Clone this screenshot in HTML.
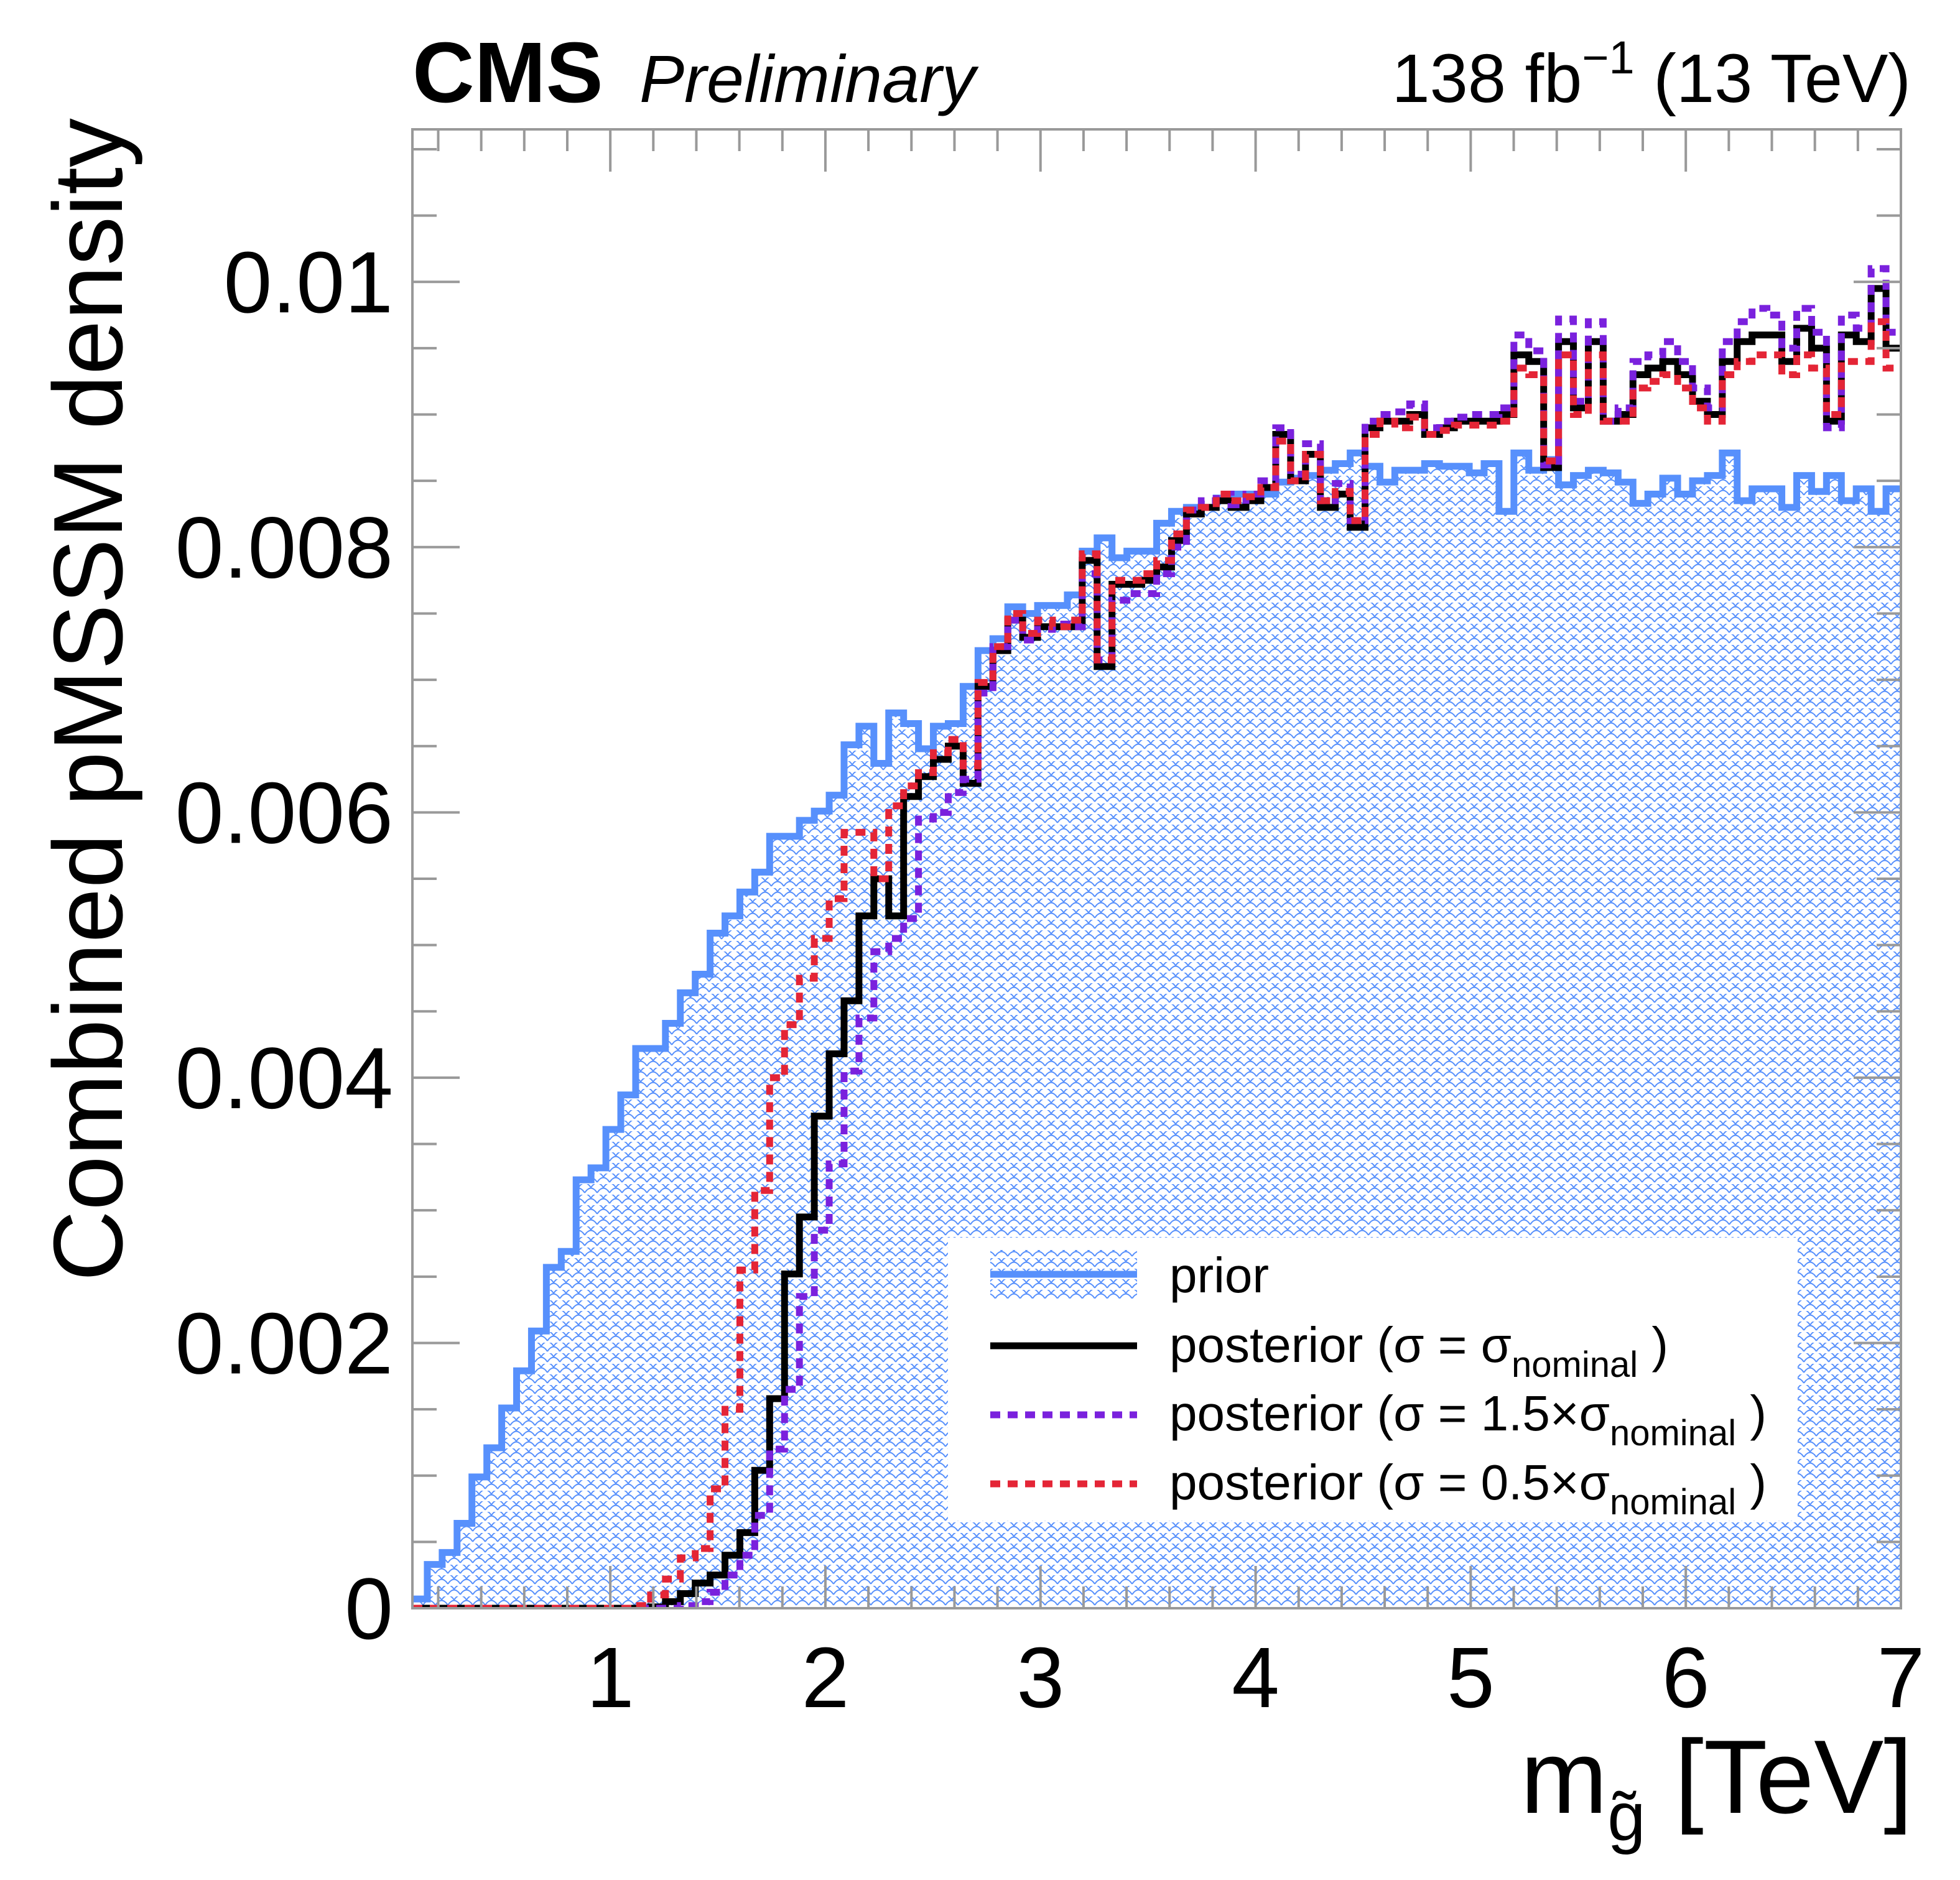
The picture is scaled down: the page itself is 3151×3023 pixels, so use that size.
<!DOCTYPE html>
<html><head><meta charset="utf-8"><style>
html,body{margin:0;padding:0;background:#fff;}
svg{display:block;font-family:"Liberation Sans",Arial,sans-serif;}
</style></head><body>
<svg id="chart" width="3151" height="3023" viewBox="0 0 3151 3023" xmlns="http://www.w3.org/2000/svg">
<defs>
<pattern id="scales" width="20" height="17" patternUnits="userSpaceOnUse">
<path d="M0,14 Q10,-1 20,14 M-10,5.5 Q0,-9 10,5.5 M10,5.5 Q20,-9 30,5.5" fill="none" stroke="#5790fc" stroke-width="2"/>
</pattern>
<clipPath id="plotclip"><rect x="663" y="208" width="2393" height="2378"/></clipPath>
</defs>
<rect x="0" y="0" width="3151" height="3023" fill="#fff"/>
<g id="plot" clip-path="url(#plotclip)"></g>
<g id="axes"></g>
<rect x="663" y="208" width="2393" height="2378" fill="none" stroke="#999" stroke-width="4"/>
<g>
<rect x="1524" y="1990" width="1366" height="455" fill="#fff"/>
<g>
<rect x="1592" y="2010" width="236" height="78" fill="url(#scales)"/>
<line x1="1592" y1="2049" x2="1828" y2="2049" stroke="#5790fc" stroke-width="11"/>
<text x="1880" y="2078" font-size="80">prior</text>
</g>
<g>
<line x1="1592" y1="2164" x2="1828" y2="2164" stroke="#000" stroke-width="11"/>
<text x="1880" y="2190" font-size="80">posterior (σ = σ<tspan font-size="58" dy="24">nominal</tspan><tspan dy="-24"> )</tspan></text>
</g>
<g>
<line x1="1592" y1="2275" x2="1828" y2="2275" stroke="#7a21dd" stroke-width="11" stroke-dasharray="16,12"/>
<text x="1880" y="2300" font-size="80">posterior (σ = 1.5×σ<tspan font-size="58" dy="24">nominal</tspan><tspan dy="-24"> )</tspan></text>
</g>
<g>
<line x1="1592" y1="2386" x2="1828" y2="2386" stroke="#e42536" stroke-width="11" stroke-dasharray="16,12"/>
<text x="1880" y="2411" font-size="80">posterior (σ = 0.5×σ<tspan font-size="58" dy="24">nominal</tspan><tspan dy="-24"> )</tspan></text>
</g>
</g>
<text x="663" y="164" font-size="138" font-weight="bold">CMS</text>
<text x="1028" y="164" font-size="108" font-style="italic">Preliminary</text>
<text x="3072" y="164" font-size="110" text-anchor="end">138 fb<tspan font-size="74" dy="-46">−1</tspan><tspan dy="46"> (13 TeV)</tspan></text>
<text x="3075" y="2915" font-size="168" text-anchor="end">m<tspan font-size="110" dy="44">g̃</tspan><tspan dy="-44"> [TeV]</tspan></text>
<text transform="translate(196,190) rotate(-90)" font-size="158" text-anchor="end">Combined pMSSM density</text>
</svg>
<script>
const xTickLabels = ["1","2","3","4","5","6","7"];
const yTickLabels = ["0","0.002","0.004","0.006","0.008","0.01"];
const prior = [0.07,0.33,0.42,0.64,0.99,1.21,1.51,1.79,2.09,2.57,2.69,3.23,3.32,3.61,3.87,4.22,4.22,4.41,4.64,4.78,5.09,5.22,5.40,5.55,5.82,5.82,5.94,6.01,6.13,6.51,6.65,6.37,6.75,6.67,6.48,6.65,6.67,6.95,7.22,7.31,7.55,7.50,7.56,7.56,7.64,7.97,8.07,7.92,7.97,7.97,8.18,8.27,8.30,8.30,8.37,8.40,8.40,8.40,8.49,8.52,8.54,8.58,8.63,8.71,8.61,8.49,8.58,8.58,8.63,8.61,8.61,8.56,8.63,8.27,8.71,8.58,8.66,8.47,8.54,8.58,8.56,8.49,8.33,8.40,8.52,8.40,8.50,8.54,8.71,8.35,8.44,8.44,8.30,8.54,8.42,8.54,8.35,8.44,8.27,8.44];
const postNominal = [0,0,0,0,0,0,0,0,0,0,0,0,0,0,0,0,0.01,0.05,0.11,0.19,0.25,0.40,0.57,1.04,1.58,2.52,2.95,3.71,4.18,4.58,5.22,5.50,5.22,6.12,6.27,6.40,6.50,6.22,6.95,7.22,7.45,7.32,7.40,7.40,7.40,7.90,7.10,7.72,7.72,7.75,7.85,8.05,8.25,8.30,8.35,8.30,8.35,8.45,8.85,8.50,8.70,8.30,8.40,8.15,8.90,8.95,8.95,9.00,8.85,8.90,8.95,8.95,8.95,9.00,9.45,9.40,8.60,9.55,9.05,9.55,8.95,9.00,9.30,9.35,9.40,9.30,9.10,9.00,9.40,9.55,9.60,9.60,9.40,9.65,9.50,8.95,9.60,9.55,9.95,9.50];
const post1p5 = [0,0,0,0,0,0,0,0,0,0,0,0,0,0,0,0,0,0,0.02,0.05,0.12,0.25,0.40,0.70,1.20,1.65,2.35,2.85,3.35,4.05,4.45,4.95,5.05,5.20,5.95,6.00,6.15,6.25,6.90,7.25,7.45,7.30,7.38,7.42,7.40,7.80,7.15,7.60,7.65,7.65,7.80,8.00,8.28,8.35,8.40,8.32,8.40,8.50,8.90,8.55,8.78,8.35,8.48,8.20,8.95,9.00,9.02,9.08,8.90,8.95,8.98,9.00,9.00,9.05,9.60,9.48,8.62,9.72,9.10,9.70,8.95,9.05,9.40,9.45,9.55,9.40,9.20,9.05,9.55,9.70,9.80,9.75,9.50,9.80,9.62,8.90,9.75,9.65,10.10,9.62];
const post0p5 = [0,0,0,0,0,0,0,0,0,0,0,0,0,0,0,0.02,0.10,0.22,0.38,0.45,0.90,1.50,2.55,3.15,4.00,4.40,4.75,5.05,5.35,5.85,5.85,5.50,6.05,6.20,6.30,6.45,6.55,6.35,6.98,7.25,7.50,7.35,7.45,7.40,7.45,7.95,7.15,7.75,7.75,7.80,7.90,8.10,8.28,8.30,8.40,8.35,8.38,8.45,8.80,8.50,8.70,8.35,8.42,8.20,8.85,8.95,8.90,8.98,8.85,8.88,8.92,8.92,8.92,8.95,9.35,9.30,8.65,9.45,9.00,9.45,8.95,8.95,9.20,9.25,9.30,9.20,9.05,8.95,9.30,9.40,9.45,9.45,9.30,9.45,9.35,9.00,9.40,9.40,9.70,9.35];

const NS = "http://www.w3.org/2000/svg";
const X0 = 663, X1 = 3056, Y0 = 2586, YT = 208;
const xmin = 0.08, xmax = 7.0;
const ymaxUnits = 11.15;
function xScale(v){ return X0 + (v - xmin) * (X1 - X0) / (xmax - xmin); }
function yScale(v){ return Y0 - v * (Y0 - YT) / ymaxUnits; }
const nb = prior.length;
const bw = (xmax - xmin) / nb;

function stepPath(vals, closed){
  let d = "M" + xScale(xmin) + "," + (closed ? Y0 : yScale(vals[0]));
  for (let i = 0; i < vals.length; i++){
    const xa = xScale(xmin + i*bw), xb = xScale(xmin + (i+1)*bw), y = yScale(vals[i]);
    d += " L" + xa + "," + y + " L" + xb + "," + y;
  }
  if (closed) d += " L" + xScale(xmax) + "," + Y0 + " Z";
  return d;
}
const plot = document.getElementById("plot");
function mk(tag, attrs){ const e = document.createElementNS(NS, tag); for (const k in attrs) e.setAttribute(k, attrs[k]); return e; }

const fill = mk("path", {d: stepPath(prior, true), fill: "url(#scales)", stroke: "none"});


plot.appendChild(fill);
const pl = mk("path", {d: stepPath(prior, false), fill: "none", stroke: "#5790fc", "stroke-width": 11});


plot.appendChild(pl);
const bl = mk("path", {d: stepPath(postNominal, false), fill: "none", stroke: "#000", "stroke-width": 11});


plot.appendChild(bl);
const pu = mk("path", {d: stepPath(post1p5, false), fill: "none", stroke: "#7a21dd", "stroke-width": 11, "stroke-dasharray": "16,12"});


plot.appendChild(pu);
const re = mk("path", {d: stepPath(post0p5, false), fill: "none", stroke: "#e42536", "stroke-width": 11, "stroke-dasharray": "16,12"});


plot.appendChild(re);

const axes = document.getElementById("axes");
for (let k = 0; k * 0.2 + 0.2 <= xmax + 1e-9; k++){
  const v = 0.2 + k*0.2;
  if (v < xmin) continue;
  const major = Math.abs(v - Math.round(v)) < 1e-6;
  const len = major ? 68 : 35;
  const x = xScale(v);
  const t1 = mk("line", {x1:x, y1:Y0, x2:x, y2:Y0-len, stroke:"#999", "stroke-width":4});
  
  
  axes.appendChild(t1);
  const t2 = mk("line", {x1:x, y1:YT, x2:x, y2:YT+len, stroke:"#999", "stroke-width":4});
  
  
  axes.appendChild(t2);
}
xTickLabels.forEach(function(lbl){
  const t = mk("text", {x: xScale(parseFloat(lbl)), y: 2745, "font-size": 138, "text-anchor": "middle"});
  t.textContent = lbl;
  
  
  axes.appendChild(t);
});
for (let k = 0; k * 0.5 <= ymaxUnits; k++){
  const v = k*0.5;
  const major = (k % 4) === 0;
  const len = major ? 76 : 39;
  const y = yScale(v);
  const t1 = mk("line", {x1:X0, y1:y, x2:X0+len, y2:y, stroke:"#999", "stroke-width":4});
  
  
  axes.appendChild(t1);
  const t2 = mk("line", {x1:X1, y1:y, x2:X1-len, y2:y, stroke:"#999", "stroke-width":4});
  
  
  axes.appendChild(t2);
}
yTickLabels.forEach(function(lbl){
  const v = parseFloat(lbl) * 1000;
  const t = mk("text", {x: 632, y: yScale(v) + 49, "font-size": 140, "text-anchor": "end"});
  t.textContent = lbl;
  
  
  axes.appendChild(t);
});
</script>
</body></html>
